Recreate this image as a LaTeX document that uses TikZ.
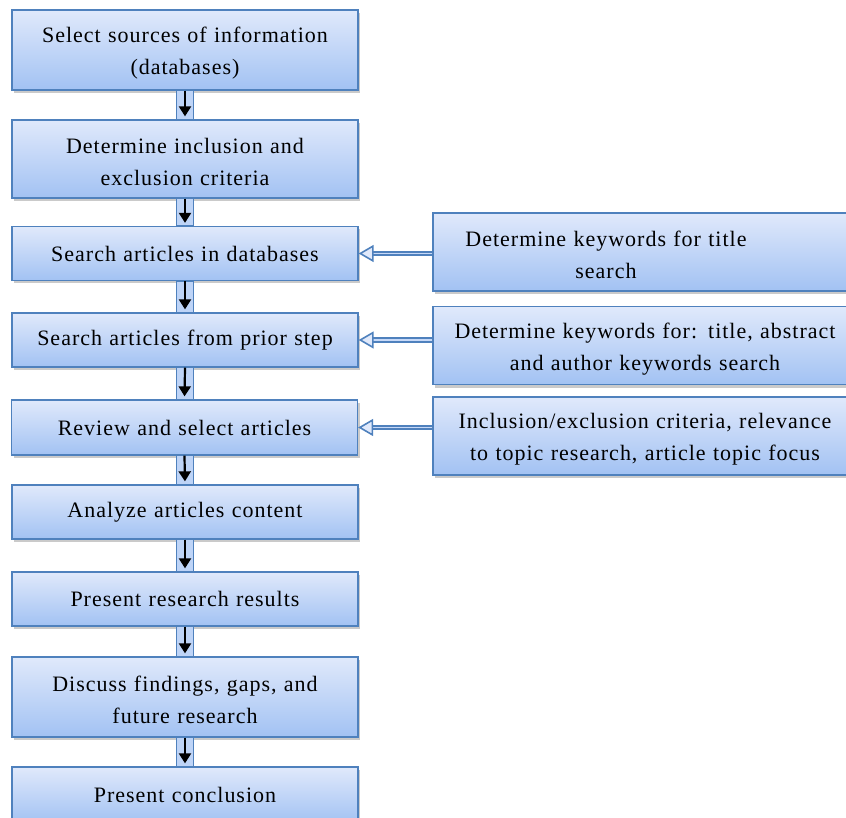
\documentclass[tikz,border=0pt]{standalone}
\usepackage{fontspec}
\setmainfont[LetterSpace=4.5]{Liberation Serif}
\usetikzlibrary{arrows.meta,shadows}

\definecolor{boxtop}{RGB}{224,233,251}
\definecolor{boxbot}{RGB}{162,194,243}
\definecolor{boxline}{RGB}{79,129,189}

\tikzset{
  flowbox/.style={draw=boxline, line width=1.3pt, top color=boxtop, bottom color=boxbot,
    inner sep=0pt, align=center, font=\fontsize{22}{32}\selectfont,
    drop shadow={shadow xshift=2pt, shadow yshift=-3pt, opacity=0.35, fill=black!60}},
  stepbox/.style={flowbox, minimum width=346pt, text width=336pt},
  keybox/.style={flowbox, minimum width=424pt, text width=414pt, minimum height=78pt},
  twoline/.style={execute at begin node={\rule{0pt}{22pt}}},
  linkbox/.style={draw=boxline, line width=1pt, fill=boxbot!70!white},
  linkarrow/.style={black, line width=2.2pt, shorten >=3pt,
    -{Triangle[length=10pt, width=12pt]}},
  sidelink/.style={draw=boxline, line width=1.8pt, double=boxtop!60!boxbot, double distance=1.6pt,
    -{Triangle[open, length=15pt, width=17pt, line width=1.6pt, fill=boxtop]}}
}

\begin{document}
\begin{tikzpicture}[x=1pt,y=-1pt]
\useasboundingbox (0,0) rectangle (846,818);
\clip (0,0) rectangle (846,818);

% main column
\node[stepbox, twoline, minimum height=80pt] (sources) at (185,50) {Select sources of information\\(databases)};
\node[stepbox, twoline, minimum height=78pt] (criteria) at (185,159) {Determine inclusion and\\exclusion criteria};
\node[stepbox, minimum height=54pt] (searchdb) at (185,253.5) {Search articles in databases};
\node[stepbox, minimum height=54pt] (searchprior) at (185,340) {Search articles from prior step};
\node[stepbox, minimum height=55pt] (review) at (184.5,427.5) {Review and select articles};
\node[stepbox, minimum height=54pt] (analyze) at (185,512) {Analyze articles content};
\node[stepbox, minimum height=54pt] (results) at (185,599) {Present research results};
\node[stepbox, twoline, minimum height=80pt] (discuss) at (185,697) {Discuss findings, gaps, and\\future research};
\node[stepbox, minimum height=56pt] (conclusion) at (185,795) {Present conclusion};

% side column
\node[keybox, twoline] (kwtitle) at (645,252) {Determine keywords for title\hspace{78pt}\mbox{}\\search\hspace{78pt}\mbox{}};
\node[keybox, twoline] (kwall) at (645,345.5) {Determine keywords for: title, abstract\\and author keywords search};
\node[keybox, twoline] (incl) at (645,436) {Inclusion/exclusion criteria, relevance\\to topic research, article topic focus};

% down links
\draw[linkbox] ([xshift=-8.5pt]sources.south) rectangle ([xshift=8.5pt]criteria.north);
\draw[linkarrow] (sources.south) -- (criteria.north);
\draw[linkbox] ([xshift=-8.5pt]criteria.south) rectangle ([xshift=8.5pt]searchdb.north);
\draw[linkarrow] (criteria.south) -- (searchdb.north);
\draw[linkbox] ([xshift=-8.5pt]searchdb.south) rectangle ([xshift=8.5pt]searchprior.north);
\draw[linkarrow] (searchdb.south) -- (searchprior.north);
\draw[linkbox] ([xshift=-8.5pt]searchprior.south) rectangle ([xshift=8.5pt]review.north);
\draw[linkarrow] (searchprior.south) -- (review.north);
\draw[linkbox] ([xshift=-8.5pt]review.south) rectangle ([xshift=8.5pt]analyze.north);
\draw[linkarrow] (review.south) -- (analyze.north);
\draw[linkbox] ([xshift=-8.5pt]analyze.south) rectangle ([xshift=8.5pt]results.north);
\draw[linkarrow] (analyze.south) -- (results.north);
\draw[linkbox] ([xshift=-8.5pt]results.south) rectangle ([xshift=8.5pt]discuss.north);
\draw[linkarrow] (results.south) -- (discuss.north);
\draw[linkbox] ([xshift=-8.5pt]discuss.south) rectangle ([xshift=8.5pt]conclusion.north);
\draw[linkarrow] (discuss.south) -- (conclusion.north);

% side links
\draw[sidelink] (kwtitle.west |- searchdb.east) -- (searchdb.east);
\draw[sidelink] (kwall.west |- searchprior.east) -- (searchprior.east);
\draw[sidelink] (incl.west |- review.east) -- (review.east);
\end{tikzpicture}
\end{document}
